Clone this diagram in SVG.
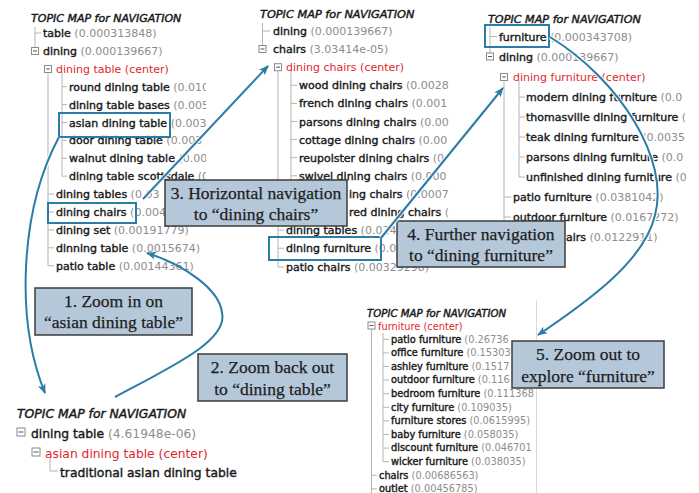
<svg xmlns="http://www.w3.org/2000/svg" width="699" height="493" viewBox="0 0 699 493">
<style>
.t{font-family:"DejaVu Sans",Verdana,sans-serif;font-size:11px;fill:#1a1a1a;stroke:#1a1a1a;stroke-width:.4px}
.ti{font-style:italic;stroke-width:.45px}
.n{fill:#8d8d8d;stroke:none}
.c{fill:#e3262b;stroke:none}
.ln{stroke:#b4b4b4;stroke-width:1;fill:none}
.pm rect{fill:#fff;stroke:#8a8a8a;stroke-width:1}
.pm path{stroke:#555;stroke-width:1}
.box rect{fill:#b5c8da;stroke:#3c3c3c;stroke-width:1.5}
.box text{font-family:"Liberation Serif","Times New Roman",serif;font-size:17.5px;fill:#1e1e1e;stroke:#1e1e1e;stroke-width:.25px;text-anchor:middle}
.hl{fill:none;stroke:#2b7ca6;stroke-width:2}
.cn{fill:none;stroke:#2b7ca6;stroke-width:2;marker-end:url(#ah)}
.halo{fill:none;stroke:#fff;stroke-width:4.5;opacity:.85}
</style>
<defs>
<marker id="ah" viewBox="0 0 10 10" refX="9" refY="5" markerWidth="10" markerHeight="10" markerUnits="userSpaceOnUse" orient="auto">
<path d="M0,1 L10,5 L0,9 L2.5,5 z" fill="#2b7ca6"/>
</marker>
<g id="pm" class="pm"><rect x="-3.5" y="-3.5" width="7" height="7"/><path d="M-2,0 H2"/></g>
<g id="pmL" class="pm"><rect x="-4" y="-4" width="8" height="8"/><path d="M-2.5,0 H2.5"/></g>
<clipPath id="c1"><rect x="0" y="0" width="206" height="290"/></clipPath>
<clipPath id="c2"><rect x="250" y="0" width="201" height="290"/></clipPath>
<clipPath id="c3"><rect x="480" y="0" width="208" height="260"/></clipPath>
<clipPath id="c5"><rect x="350" y="300" width="187" height="193"/></clipPath>
</defs>
<rect width="699" height="493" fill="#fff"/>

<g id="panel1" clip-path="url(#c1)">
<path class="ln" d="M35,27 V47 M35,33 H41 M48,72.5 V265.7 M48,194.1 H54 M48,212 H54 M48,229.9 H54 M48,247.8 H54 M48,265.7 H54 M62,73 V176.2 M62,86.7 H67 M62,104.6 H67 M62,122.5 H67 M62,140.4 H67 M62,158.3 H67 M62,176.2 H67"/>
<use href="#pm" x="35" y="51"/>
<use href="#pm" x="48" y="69"/>
<text class="t ti" x="31" y="21.5">TOPIC MAP for NAVIGATION</text>
<text class="t" x="43" y="37">table <tspan class="n">(0.000313848)</tspan></text>
<text class="t" x="43" y="54.9">dining <tspan class="n">(0.000139667)</tspan></text>
<text class="t c" x="56" y="72.8">dining table (center)</text>
<text class="t" x="69" y="90.7">round dining table <tspan class="n">(0.010</tspan></text>
<text class="t" x="69" y="108.6">dining table bases <tspan class="n">(0.005</tspan></text>
<text class="t" x="69" y="126.5">asian dining table <tspan class="n">(0.003</tspan></text>
<text class="t" x="69" y="144.4">door dining table <tspan class="n">(0.003</tspan></text>
<text class="t" x="69" y="162.3">walnut dining table <tspan class="n">(0.00</tspan></text>
<text class="t" x="69" y="180.2">dining table scottsdale <tspan class="n">(0</tspan></text>
<text class="t" x="56" y="198.1">dining tables <tspan class="n">(0.03</tspan></text>
<text class="t" x="56" y="216">dining chairs <tspan class="n">(0.004</tspan></text>
<text class="t" x="56" y="233.9">dining set <tspan class="n">(0.00191779)</tspan></text>
<text class="t" x="56" y="251.8">dinning table <tspan class="n">(0.0015674)</tspan></text>
<text class="t" x="56" y="269.7">patio table <tspan class="n">(0.00144361)</tspan></text>
</g>

<g id="panel2" clip-path="url(#c2)">
<path class="ln" d="M262.5,23 V45.5 M262.5,31 H270 M278,70.7 V267 M278,230.1 H284 M278,248.2 H284 M278,267 H284 M291,71 V212 M291,85.3 H297 M291,103.4 H297 M291,121.5 H297 M291,139.6 H297 M291,157.7 H297 M291,175.8 H297 M291,193.9 H297 M291,212 H297"/>
<use href="#pm" x="262.5" y="49"/>
<use href="#pm" x="278" y="67.2"/>
<text class="t ti" x="260" y="18" style="font-size:11.3px">TOPIC MAP for NAVIGATION</text>
<text class="t" x="273" y="35">dining <tspan class="n">(0.000139667)</tspan></text>
<text class="t" x="273" y="53.1">chairs <tspan class="n">(3.03414e-05)</tspan></text>
<text class="t c" x="286" y="71.2">dining chairs (center)</text>
<text class="t" x="299" y="89.3">wood dining chairs <tspan class="n">(0.0028</tspan></text>
<text class="t" x="299" y="107.4">french dining chairs <tspan class="n">(0.001</tspan></text>
<text class="t" x="299" y="125.5">parsons dining chairs <tspan class="n">(0.00</tspan></text>
<text class="t" x="299" y="143.6">cottage dining chairs <tspan class="n">(0.00</tspan></text>
<text class="t" x="299" y="161.7">reupolster dining chairs <tspan class="n">(0</tspan></text>
<text class="t" x="299" y="179.8">swivel dining chairs <tspan class="n">(0.000</tspan></text>
<text class="t" x="349" y="197.9">ing chairs <tspan class="n">(0.0007</tspan></text>
<text class="t" x="349" y="216">red dining chairs <tspan class="n">(</tspan></text>
<text class="t" x="286" y="234.1">dining tables <tspan class="n">(0.024</tspan></text>
<text class="t" x="286" y="252.2">dining furniture <tspan class="n">(0.0</tspan></text>
<text class="t" x="286" y="271">patio chairs <tspan class="n">(0.00329298)</tspan></text>
</g>

<g id="panel3" clip-path="url(#c3)">
<path class="ln" d="M490,27 V53 M490,36.5 H497 M504,80.5 V237 M504,197 H511 M504,217 H511 M504,237 H511 M519,81 V177 M519,97 H525 M519,117 H525 M519,137 H525 M519,157 H525 M519,177 H525"/>
<use href="#pm" x="490" y="56.5"/>
<use href="#pm" x="504" y="77"/>
<text class="t ti" x="488" y="22.5" style="font-size:11.2px">TOPIC MAP for NAVIGATION</text>
<text class="t" x="499" y="40.5">furniture <tspan class="n">(0.000343708)</tspan></text>
<text class="t" x="499" y="60.5">dining <tspan class="n">(0.000139667)</tspan></text>
<text class="t c" x="513" y="81">dining furniture (center)</text>
<text class="t" x="526" y="101">modern dining furniture <tspan class="n">(0.0</tspan></text>
<text class="t" x="526" y="121">thomasville dining furniture <tspan class="n">(</tspan></text>
<text class="t" x="526" y="141">teak dining furniture <tspan class="n">(0.0035</tspan></text>
<text class="t" x="526" y="161">parsons dining furniture <tspan class="n">(0.0</tspan></text>
<text class="t" x="526" y="181">unfinished dining furniture <tspan class="n">(0</tspan></text>
<text class="t" x="513" y="201">patio furniture <tspan class="n">(0.0381042)</tspan></text>
<text class="t" x="513" y="221">outdoor furniture <tspan class="n">(0.0167272)</tspan></text>
<text class="t" x="566" y="241">airs <tspan class="n">(0.0122911)</tspan></text>
</g>

<g id="panel4">
<path class="ln" d="M50,458 V471 H58"/>
<use href="#pmL" x="21" y="432"/>
<use href="#pmL" x="36" y="452"/>
<text class="t ti" x="17" y="418" style="font-size:12.4px">TOPIC MAP for NAVIGATION</text>
<text class="t" x="31" y="437.5" style="font-size:12.3px">dining table <tspan class="n">(4.61948e-06)</tspan></text>
<text class="t c" x="45" y="457.5" style="font-size:12.3px">asian dining table (center)</text>
<text class="t" x="60" y="477" style="font-size:12.3px">traditional asian dining table</text>
</g>

<g id="panel5" clip-path="url(#c5)">
<path class="ln" d="M537,300 V493"/>
<path class="ln" d="M371.5,329 V493 M371.5,475.3 H377 M371.5,488.9 H377 M383,333 V461.7 M383,339.3 H389 M383,352.9 H389 M383,366.5 H389 M383,380.1 H389 M383,393.7 H389 M383,407.3 H389 M383,420.9 H389 M383,434.5 H389 M383,448.1 H389 M383,461.7 H389"/>
<use href="#pm" x="371.5" y="325.5"/>
<text class="t ti" x="367" y="317" style="font-size:10.2px">TOPIC MAP for NAVIGATION</text>
<text class="t c" x="378" y="329.5" style="font-size:9.8px">furniture (center)</text>
<text class="t" x="391" y="342.5" style="font-size:9.8px">patio furniture <tspan class="n">(0.26736</tspan></text>
<text class="t" x="391" y="356.1" style="font-size:9.8px">office furniture <tspan class="n">(0.15303</tspan></text>
<text class="t" x="391" y="369.7" style="font-size:9.8px">ashley furniture <tspan class="n">(0.1517</tspan></text>
<text class="t" x="391" y="383.3" style="font-size:9.8px">outdoor furniture <tspan class="n">(0.116</tspan></text>
<text class="t" x="391" y="396.9" style="font-size:9.8px">bedroom furniture <tspan class="n">(0.111368</tspan></text>
<text class="t" x="391" y="410.5" style="font-size:9.8px">city furniture <tspan class="n">(0.109035)</tspan></text>
<text class="t" x="391" y="424.1" style="font-size:9.8px">furniture stores <tspan class="n">(0.0615995)</tspan></text>
<text class="t" x="391" y="437.7" style="font-size:9.8px">baby furniture <tspan class="n">(0.058035)</tspan></text>
<text class="t" x="391" y="451.3" style="font-size:9.8px">discount furniture <tspan class="n">(0.046701</tspan></text>
<text class="t" x="391" y="464.9" style="font-size:9.8px">wicker furniture <tspan class="n">(0.038035)</tspan></text>
<text class="t" x="379" y="478.5" style="font-size:9.8px">chairs <tspan class="n">(0.00686563)</tspan></text>
<text class="t" x="379" y="492.1" style="font-size:9.8px">outlet <tspan class="n">(0.00456785)</tspan></text>
</g>

<g id="highlights">
<rect class="hl" x="59" y="113" width="111" height="24"/>
<rect class="hl" x="48" y="203" width="88" height="20"/>
<rect class="hl" x="269" y="237" width="112" height="23"/>
<rect class="hl" x="485" y="25" width="64" height="22"/>
</g>

<g id="callout1" class="box"><rect x="35" y="288" width="157" height="47"/><text x="113.5" y="307">1. Zoom in on</text><text x="113.5" y="328">“asian dining table”</text></g>
<g id="callout2" class="box"><rect x="198" y="354" width="149" height="47"/><text x="272.5" y="373">2. Zoom back out</text><text x="272.5" y="395">to “dining table”</text></g>
<g id="callout3" class="box"><rect x="165" y="180" width="182" height="46"/><text x="256" y="199">3. Horizontal navigation</text><text x="256" y="220">to “dining chairs”</text></g>
<g id="callout4" class="box"><rect x="397" y="221" width="168" height="46"/><text x="481" y="240">4. Further navigation</text><text x="481" y="260.5">to “dining furniture”</text></g>
<g id="callout5" class="box"><rect x="512" y="341" width="152" height="47"/><text x="588" y="360">5. Zoom out to</text><text x="588" y="382">explore “furniture”</text></g>

<g id="connectors">
<path class="halo" d="M59,137 C20,210 15,320 45,393"/>
<path class="halo" d="M143,199 L268,66"/>
<path class="halo" d="M381,238 L503,88"/>
<path class="halo" d="M550,37 C620,80 670,160 655,215 C645,260 590,300 538,335"/>
<path class="cn" d="M59,137 C20,210 15,320 45,393"/>
<path class="cn" d="M115,397 C175,365 228,340 222,313 C220,290 185,265 147,253"/>
<path class="cn" d="M143,199 L268,66"/>
<path class="cn" d="M381,238 L503,88"/>
<path class="cn" d="M550,37 C620,80 670,160 655,215 C645,260 590,300 538,335"/>
</g>
</svg>
